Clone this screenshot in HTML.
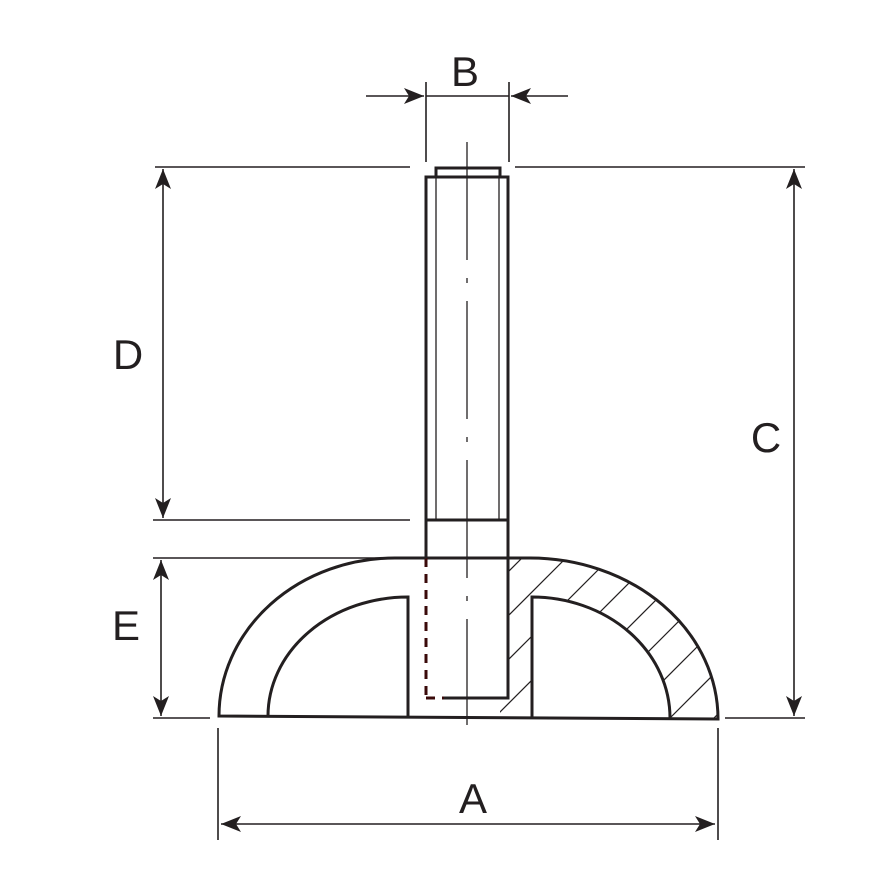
<!DOCTYPE html>
<html><head><meta charset="utf-8"><style>html,body{margin:0;padding:0;background:#fff;width:886px;height:886px;overflow:hidden}svg{display:block}</style></head>
<body>
<svg width="886" height="886" viewBox="0 0 886 886" xmlns="http://www.w3.org/2000/svg">
<defs>
<marker id="ar" viewBox="0 0 20 16" refX="20" refY="8" markerWidth="20" markerHeight="16" markerUnits="userSpaceOnUse" orient="auto">
<path d="M0,0 L20,8 L0,16 L5,8 Z" fill="#231f20"/>
</marker>
<clipPath id="hc">
<path d="M508,558 L530,558 A188,161 0 0 1 718,719 L670,718 A138,121 0 0 0 532,597 L532,718 L500,718 L500,698 L508,698 Z"/>
</clipPath>
</defs>
<g stroke="#231f20" fill="none" font-family="Liberation Sans, sans-serif">
<g clip-path="url(#hc)" stroke-width="1.2">
<line x1="540" y1="540" x2="340" y2="740"/>
<line x1="584" y1="540" x2="384" y2="740"/>
<line x1="628" y1="540" x2="428" y2="740"/>
<line x1="672" y1="540" x2="472" y2="740"/>
<line x1="716" y1="540" x2="516" y2="740"/>
<line x1="760" y1="540" x2="560" y2="740"/>
<line x1="804" y1="540" x2="604" y2="740"/>
<line x1="848" y1="540" x2="648" y2="740"/>
<line x1="880" y1="552" x2="692" y2="740"/>
</g>
<g stroke-width="3">
<path d="M219,716 A176,158 0 0 1 395,558 L530,558 A188,161 0 0 1 718,719 Z"/>
<path d="M268,716 A140,119 0 0 1 408,597 L408,716"/>
<path d="M532,718 L532,597 A138,121 0 0 1 670,718"/>
<path d="M508,558 L508,698 L444,698"/>
</g>
<line x1="426" y1="558" x2="426" y2="698" stroke="#3a0a0a" stroke-width="3" stroke-dasharray="9,7"/>
<line x1="426" y1="698" x2="444" y2="698" stroke="#3a0a0a" stroke-width="3" stroke-dasharray="9,7"/>
<g stroke-width="3">
<path d="M426,558 L426,177 L508,177 L508,558"/>
<path d="M436,177 L436,168 L500,168 L500,177"/>
<line x1="426" y1="520" x2="508" y2="520"/>
</g>
<line x1="436" y1="177" x2="436" y2="520" stroke-width="1.3"/>
<line x1="499" y1="177" x2="499" y2="520" stroke-width="1.3"/>
<line x1="467" y1="142" x2="467" y2="725" stroke-width="1.3" stroke-dasharray="118,18,5,18"/>
<g stroke-width="1.6">
<line x1="155" y1="167" x2="410" y2="167"/>
<line x1="515" y1="167" x2="805" y2="167"/>
<line x1="153" y1="520" x2="410" y2="520"/>
<line x1="153" y1="558" x2="426" y2="558"/>
<line x1="153" y1="718" x2="210" y2="718"/>
<line x1="725" y1="718" x2="805" y2="718"/>
<line x1="426" y1="82" x2="426" y2="162"/>
<line x1="509" y1="82" x2="509" y2="162"/>
<line x1="426" y1="96" x2="509" y2="96"/>
<line x1="366" y1="96" x2="424" y2="96" marker-end="url(#ar)"/>
<line x1="568" y1="96" x2="511" y2="96" marker-end="url(#ar)"/>
<line x1="218" y1="728" x2="218" y2="840"/>
<line x1="718" y1="728" x2="718" y2="840"/>
<line x1="163" y1="343" x2="163" y2="169" marker-end="url(#ar)"/>
<line x1="163" y1="343" x2="163" y2="518" marker-end="url(#ar)"/>
<line x1="794" y1="440" x2="794" y2="169" marker-end="url(#ar)"/>
<line x1="794" y1="440" x2="794" y2="716" marker-end="url(#ar)"/>
<line x1="161" y1="638" x2="161" y2="560" marker-end="url(#ar)"/>
<line x1="161" y1="638" x2="161" y2="716" marker-end="url(#ar)"/>
<line x1="470" y1="824" x2="221" y2="824" marker-end="url(#ar)"/>
<line x1="470" y1="824" x2="715" y2="824" marker-end="url(#ar)"/>
</g>
</g>
<g fill="#231f20" font-family="Liberation Sans, sans-serif" font-size="42" text-anchor="middle">
<text x="465" y="86">B</text>
<text x="128" y="369">D</text>
<text x="766" y="452">C</text>
<text x="126" y="640">E</text>
<text x="473" y="813">A</text>
</g>
</svg>
</body></html>
